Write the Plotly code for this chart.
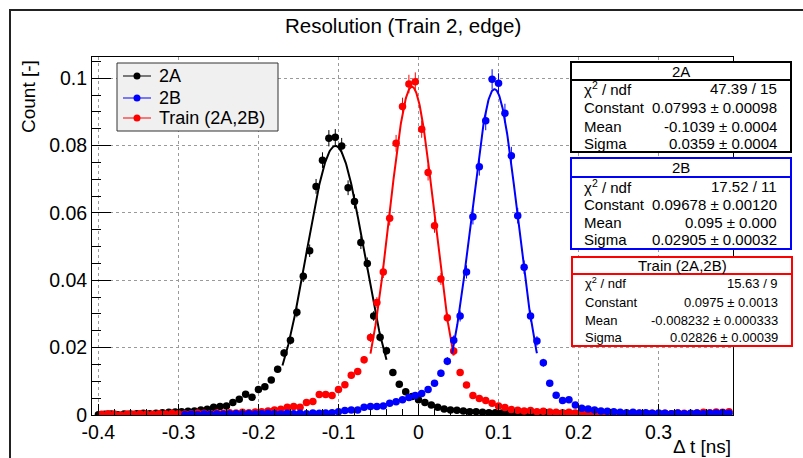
import numpy as np
import plotly.graph_objects as go

# ---------------------------------------------------------------- data
BIN_WIDTH = 0.008
N_BINS = 100
# 2A histogram is binned half a bin lower than 2B / Train
centers_2a = [round(-0.408 + BIN_WIDTH * k, 4) for k in range(N_BINS)]
centers_2b = [round(-0.404 + BIN_WIDTH * k, 4) for k in range(N_BINS)]
centers_tr = [round(-0.404 + BIN_WIDTH * k, 4) for k in range(N_BINS)]

count_2a = [
    None, 0.0001, 0.0002, 0.0003, 0.0001, 0.0003, 0.0003, 0.0004, 0.0005, 0.0004,
    0.0005, 0.0007, 0.0008, 0.0009, 0.0010, 0.0011, 0.0012, 0.0015, 0.0017, 0.0023,
    0.0025, 0.0027, 0.0037, 0.0047, 0.0062, 0.0053, 0.0076, 0.0084, 0.0104, 0.0136,
    0.0184, 0.0222, 0.0305, 0.0412, 0.0488, 0.0679, 0.0757, 0.0822, 0.0825, 0.0799,
    0.0675, 0.0634, 0.0512, 0.0450, 0.0294, 0.0231, 0.0191, 0.0126, 0.0091, 0.0069,
    0.0055, 0.0045, 0.0037, 0.0030, 0.0023, 0.0018, 0.0015, 0.0014, 0.0012, 0.0010,
    0.0010, 0.0008, 0.0007, 0.0007, 0.0006, 0.0005, 0.0006, 0.0004, 0.0005, 0.0004,
    0.0003, 0.0004, 0.0003, 0.0003, 0.0004, 0.0002, 0.0003, 0.0003, 0.0002, 0.0003,
    0.0002, 0.0002, 0.0003, 0.0002, 0.0002, 0.0001, 0.0002, 0.0002, 0.0001, 0.0002,
    0.0001, 0.0002, 0.0001, 0.0001, 0.0002, 0.0001, 0.0001, 0.0002, 0.0001, 0.0001,
]

count_2b = [
    None, None, None, None, None, None, None, None, None, None,
    None, None, None, None, 0.0001, 0.0002, 0.0001, 0.0003, 0.0002, 0.0003,
    0.0002, 0.0003, 0.0004, 0.0003, 0.0004, 0.0003, 0.0004, 0.0005, 0.0004, 0.0003,
    0.0005, 0.0004, 0.0005, 0.0004, 0.0006, 0.0005, 0.0006, 0.0007, 0.0010, 0.0013,
    0.0015, 0.0015, 0.0023, 0.0025, 0.0025, 0.0027, 0.0035, 0.0039, 0.0045, 0.0052,
    0.0058, 0.0064, 0.0076, 0.0094, 0.0124, 0.0160, 0.0222, 0.0294, 0.0425, 0.0589,
    0.0737, 0.0874, 0.0997, 0.0985, 0.0896, 0.0770, 0.0592, 0.0439, 0.0294, 0.0220,
    0.0155, 0.0094, 0.0059, 0.0043, 0.0045, 0.0030, 0.0020, 0.0018, 0.0015, 0.0012,
    0.0011, 0.0010, 0.0008, 0.0007, 0.0008, 0.0006, 0.0007, 0.0005, 0.0006, 0.0005,
    0.0004, 0.0006, 0.0004, 0.0005, 0.0006, 0.0004, 0.0005, 0.0006, 0.0007, 0.0005,
]

count_tr = [
    None, 0.0002, 0.0004, 0.0003, 0.0000, 0.0003, 0.0002, 0.0004, 0.0003, 0.0002,
    0.0004, 0.0003, 0.0005, 0.0004, 0.0003, 0.0004, 0.0006, 0.0005, 0.0004, 0.0006,
    0.0005, 0.0007, 0.0006, 0.0008, 0.0007, 0.0009, 0.0010, 0.0012, 0.0015, 0.0017,
    0.0023, 0.0025, 0.0023, 0.0037, 0.0040, 0.0061, 0.0061, 0.0058, 0.0076, 0.0090,
    0.0118, 0.0129, 0.0164, 0.0230, 0.0334, 0.0425, 0.0584, 0.0807, 0.0916, 0.0983,
    0.0990, 0.0849, 0.0720, 0.0562, 0.0404, 0.0289, 0.0190, 0.0126, 0.0089, 0.0058,
    0.0049, 0.0043, 0.0035, 0.0027, 0.0022, 0.0016, 0.0014, 0.0012, 0.0013, 0.0010,
    0.0011, 0.0009, 0.0008, 0.0007, 0.0008, 0.0006, 0.0007, 0.0005, 0.0006, 0.0005,
    0.0006, 0.0004, 0.0005, 0.0004, 0.0006, 0.0005, 0.0004, 0.0005, 0.0003, 0.0005,
    0.0004, 0.0006, 0.0005, 0.0004, 0.0006, 0.0008, 0.0007, 0.0009, 0.0008, 0.0010,
]

# effective number of entries of each normalised histogram (Poisson errors)
entries = {"2A": 14000, "2B": 11000, "Train (2A,2B)": 13000}

# Gaussian fit results
series_names = ["2A", "2B", "Train (2A,2B)"]
fit_const = [0.07993, 0.09678, 0.0975]
fit_mean = [-0.1039, 0.095, -0.008232]
fit_sigma = [0.0359, 0.02905, 0.02826]
fit_range = [(-0.170, -0.040), (0.042, 0.148), (-0.060, 0.044)]

stat_rows = [
    [("χ<sup>2</sup> / ndf", "47.39 / 15"),
     ("Constant", "0.07993 ± 0.00098"),
     ("Mean", "-0.1039 ± 0.0004"),
     ("Sigma", "0.0359 ± 0.0004")],
    [("χ<sup>2</sup> / ndf", "17.52 / 11"),
     ("Constant", "0.09678 ± 0.00120"),
     ("Mean", "0.095 ± 0.000"),
     ("Sigma", "0.02905 ± 0.00032")],
    [("χ<sup>2</sup> / ndf", "15.63 / 9"),
     ("Constant", "0.0975 ± 0.0013"),
     ("Mean", "-0.008232 ± 0.000333"),
     ("Sigma", "0.02826 ± 0.00039")],
]

x_ticks = [-0.4, -0.3, -0.2, -0.1, 0.0, 0.1, 0.2, 0.3]
x_ticktext = ["-0.4", "-0.3", "-0.2", "-0.1", "0", "0.1", "0.2", "0.3"]
y_ticks = [0.0, 0.02, 0.04, 0.06, 0.08, 0.1]
y_ticktext = ["0", "0.02", "0.04", "0.06", "0.08", "0.1"]

title_text = "Resolution (Train 2, edge)"
x_title = "Δ t [ns]"
y_title = "Count [-]"

# ---------------------------------------------------------------- layout geometry (pixels)
W, H = 803, 458
L, R, T, B = 92, 733, 57, 415
FONT = "Liberation Sans, Arial, Helvetica, sans-serif"
colors = ["#000000", "#0000ff", "#ff0000"]


def fx(px):
    return (px - L) / (R - L)


def fy(py):
    return (B - py) / (B - T)


fig = go.Figure()

series = [
    (centers_2a, count_2a),
    (centers_2b, count_2b),
    (centers_tr, count_tr),
]

draw_order = [0, 2, 1]
for i in draw_order:
    xs, ys = series[i]
    n = entries[series_names[i]]
    err = [None if v is None else (v / n) ** 0.5 for v in ys]
    fig.add_trace(go.Scatter(
        x=xs, y=ys, mode="markers", name=series_names[i],
        marker=dict(color=colors[i], size=7.5, line=dict(width=0)),
        error_y=dict(type="data", array=err, visible=True,
                     thickness=1, width=0, color=colors[i]),
        showlegend=False,
    ))
    lo, hi = fit_range[i]
    fxv = np.linspace(lo, hi, 200)
    fyv = fit_const[i] * np.exp(-0.5 * ((fxv - fit_mean[i]) / fit_sigma[i]) ** 2)
    fig.add_trace(go.Scatter(
        x=fxv, y=fyv, mode="lines", line=dict(color=colors[i], width=2),
        showlegend=False, hoverinfo="skip",
    ))

shapes = []
annotations = []

# canvas border
shapes.append(dict(type="rect", xref="paper", yref="paper",
                   x0=fx(10), x1=fx(860), y0=fy(10), y1=fy(500),
                   line=dict(color="#222222", width=2), fillcolor="rgba(0,0,0,0)"))

# legend
shapes.append(dict(type="rect", xref="paper", yref="paper",
                   x0=fx(117), x1=fx(278), y0=fy(63), y1=fy(131),
                   line=dict(color="#333333", width=1), fillcolor="#f0f0f0"))
legend_rows = [76, 98, 118]
for i, yy in enumerate(legend_rows):
    shapes.append(dict(type="line", xref="paper", yref="paper",
                       x0=fx(123), x1=fx(151), y0=fy(yy), y1=fy(yy),
                       line=dict(color=colors[i], width=1)))
    shapes.append(dict(type="circle", xref="paper", yref="paper",
                       x0=fx(133.5), x1=fx(140.5), y0=fy(yy - 3.5), y1=fy(yy + 3.5),
                       line=dict(color=colors[i], width=0), fillcolor=colors[i]))
    annotations.append(dict(xref="paper", yref="paper", x=fx(157), y=fy(yy),
                            xanchor="left", yanchor="middle", showarrow=False,
                            text=series_names[i],
                            font=dict(family=FONT, size=18, color="#000000")))

# fit statistics boxes: (left, right, top, header bottom, bottom)
stat_boxes = [
    (571, 791, 62, 80, 152),
    (571, 791, 158, 177, 249),
    (572, 792, 257, 274, 346),
]
stat_row_y = [[88, 107, 126, 143], [186, 204, 222, 239], [283, 302, 320, 337]]
stat_font = [15, 15, 13]
for i, (x0, x1, y0, yh, y1) in enumerate(stat_boxes):
    shapes.append(dict(type="rect", xref="paper", yref="paper",
                       x0=fx(x0), x1=fx(x1), y0=fy(y0), y1=fy(y1),
                       line=dict(color=colors[i], width=2), fillcolor="#ffffff"))
    shapes.append(dict(type="line", xref="paper", yref="paper",
                       x0=fx(x0), x1=fx(x1), y0=fy(yh), y1=fy(yh),
                       line=dict(color=colors[i], width=2)))
    annotations.append(dict(xref="paper", yref="paper", x=fx((x0 + x1) / 2),
                            y=fy((y0 + yh) / 2), xanchor="center", yanchor="middle",
                            showarrow=False, text=series_names[i],
                            font=dict(family=FONT, size=15, color="#000000")))
    for (lab, val), yy in zip(stat_rows[i], stat_row_y[i]):
        annotations.append(dict(xref="paper", yref="paper", x=fx(x0 + 11), y=fy(yy),
                                xanchor="left", yanchor="middle", showarrow=False,
                                text=lab, font=dict(family=FONT, size=stat_font[i],
                                                    color="#000000")))
        annotations.append(dict(xref="paper", yref="paper", x=fx(x1 - 12), y=fy(yy),
                                xanchor="right", yanchor="middle", showarrow=False,
                                text=val, font=dict(family=FONT, size=stat_font[i],
                                                    color="#000000")))

# title and axis titles
annotations.append(dict(xref="paper", yref="paper", x=fx(403), y=fy(25),
                        xanchor="center", yanchor="middle", showarrow=False,
                        text=title_text, font=dict(family=FONT, size=20.5, color="#000000")))
annotations.append(dict(xref="paper", yref="paper", x=fx(28), y=fy(97),
                        xanchor="center", yanchor="middle", showarrow=False,
                        textangle=-90, text=y_title,
                        font=dict(family=FONT, size=19, color="#000000")))
annotations.append(dict(xref="paper", yref="paper", x=fx(733), y=fy(447),
                        xanchor="right", yanchor="middle", showarrow=False,
                        text=x_title, font=dict(family=FONT, size=19, color="#000000")))

fig.update_layout(
    width=W, height=H, autosize=False,
    margin=dict(l=L, r=W - R, t=T, b=H - B, pad=0),
    paper_bgcolor="#ffffff", plot_bgcolor="#ffffff",
    showlegend=False,
    shapes=shapes, annotations=annotations,
    xaxis=dict(
        range=[-0.408, 0.393], tickmode="array", tickvals=x_ticks, ticktext=x_ticktext,
        ticks="inside", ticklen=11, tickwidth=1, tickcolor="#000000",
        minor=dict(tickmode="array",
                   tickvals=[round(-0.4 + 0.02 * k, 3) for k in range(40)],
                   ticks="inside", ticklen=6, tickwidth=1, tickcolor="#000000",
                   showgrid=False),
        showgrid=True, gridcolor="#9a9a9a", griddash="dot", gridwidth=1,
        showline=True, linecolor="#000000", linewidth=1, mirror=True,
        zeroline=False, tickfont=dict(family=FONT, size=19.5, color="#000000"),
    ),
    yaxis=dict(
        range=[0, 0.10633], tickmode="array", tickvals=y_ticks, ticktext=y_ticktext,
        ticks="inside", ticklen=19, tickwidth=1, tickcolor="#000000",
        minor=dict(tickmode="array",
                   tickvals=[round(0.005 * k, 3) for k in range(22)],
                   ticks="inside", ticklen=9, tickwidth=1, tickcolor="#000000",
                   showgrid=False),
        showgrid=True, gridcolor="#9a9a9a", griddash="dot", gridwidth=1,
        showline=True, linecolor="#000000", linewidth=1, mirror=True,
        zeroline=False, tickfont=dict(family=FONT, size=19.5, color="#000000"),
    ),
)

fig.write_html("out.html")
